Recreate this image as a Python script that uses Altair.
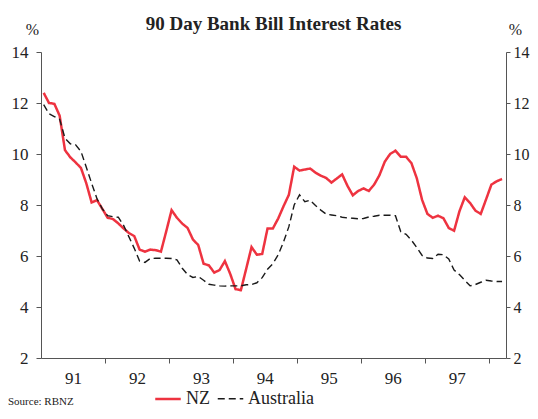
import altair as alt
import pandas as pd

# Monthly 90-day bank bill rates, Jan 1991 - Mar 1998
start_year = 1991
nz = [12.4, 12.0, 11.97, 11.5, 10.15, 9.87, 9.67, 9.45, 8.85, 8.1,
      8.19, 7.85, 7.5, 7.45, 7.28, 7.08, 6.9, 6.78, 6.25, 6.17,
      6.25, 6.23, 6.17, 6.97, 7.8, 7.5, 7.27, 7.1, 6.65, 6.43,
      5.7, 5.63, 5.35, 5.45, 5.8, 5.3, 4.7, 4.66, 5.5, 6.35,
      6.05, 6.08, 7.08, 7.08, 7.47, 7.95, 8.4, 9.5, 9.35, 9.39,
      9.43, 9.27, 9.15, 9.06, 8.88, 9.04, 9.2, 8.75, 8.38, 8.55,
      8.65, 8.55, 8.8, 9.17, 9.7, 10.0, 10.13, 9.89, 9.89, 9.64,
      9.05, 8.2, 7.65, 7.5, 7.58, 7.48, 7.1, 6.99, 7.75, 8.3,
      8.08, 7.78, 7.65, 8.22, 8.8, 8.93, 9.02]
aus = [11.94, 11.58, 11.47, 11.36, 10.62, 10.4, 10.36, 10.1, 9.48, 8.85,
       8.25, 7.85, 7.58, 7.54, 7.52, 7.2, 6.75, 6.3, 5.8, 5.75,
       5.9, 5.91, 5.91, 5.91, 5.9, 5.85, 5.52, 5.27, 5.16, 5.2,
       5.05, 4.89, 4.86, 4.83, 4.82, 4.83, 4.83, 4.83, 4.87, 4.88,
       4.95, 5.15, 5.48, 5.7, 6.05, 6.55, 7.15, 8.0, 8.4, 8.13,
       8.19, 7.98, 7.8, 7.64, 7.61, 7.58, 7.52, 7.49, 7.48, 7.46,
       7.47, 7.53, 7.56, 7.6, 7.6, 7.6, 7.58, 6.95, 6.85, 6.62,
       6.33, 6.02, 5.92, 5.9, 6.07, 6.05, 5.88, 5.45, 5.27, 5.05,
       4.83, 4.88, 4.97, 5.05, 5.02, 5.0, 5.0]
series_names = ["NZ", "Australia"]
series_colors = ["#ee3340", "#1a1a1a"]
y_ticks = [2, 4, 6, 8, 10, 12, 14]
x_label_years = [1991.5, 1992.5, 1993.5, 1994.5, 1995.5, 1996.5, 1997.5]
x_tick_years = [1992, 1993, 1994, 1995, 1996, 1997, 1998]

rows = []
for name, vals in zip(series_names, [nz, aus]):
    for m, v in enumerate(vals):
        rows.append({"t": start_year + (m + 0.5) / 12, "rate": v, "series": name})
df = pd.DataFrame(rows)

FONT = "Liberation Serif"
W, H = 465, 306
AXC = "#555555"
TXT = "#222222"

x_scale = alt.Scale(domain=[1991, 1998.27], nice=False, zero=False)
y_scale = alt.Scale(domain=[2, 14], nice=False, zero=False)

x_axis = alt.Axis(
    values=sorted(x_label_years + x_tick_years),
    labelExpr="floor(datum.value) != datum.value ? '' + (floor(datum.value) - 1900) : ''",
    tickOpacity={"condition": {"test": "floor(datum.value) != datum.value", "value": 0}, "value": 1},
    grid=False, title=None, labelFlush=False, labelOverlap=False,
    tickSize=5, labelPadding=7, labelFontSize=17, labelFont=FONT,
    domainColor=AXC, tickColor=AXC, labelColor=TXT,
)

left_axis = alt.Axis(
    values=y_ticks, orient="left", grid=False, title="%", titleAngle=0,
    titleX=-9, titleY=-23, titleAlign="center", titleBaseline="middle",
    titleFont=FONT, titleFontSize=16, titleFontWeight="normal", titleColor=TXT,
    tickSize=5, labelPadding=8, labelFontSize=17, labelFont=FONT,
    domainColor=AXC, tickColor=AXC, labelColor=TXT,
)
right_axis = alt.Axis(
    values=y_ticks, orient="right", grid=False, title="%", titleAngle=0,
    titleX=9, titleY=-23, titleAlign="center", titleBaseline="middle",
    titleFont=FONT, titleFontSize=16, titleFontWeight="normal", titleColor=TXT,
    tickSize=4, labelPadding=3, labelFontSize=16, labelFont=FONT,
    domainColor=AXC, tickColor=AXC, labelColor=TXT,
)

legend_kw = dict(title=None, orient="none", legendX=113, legendY=333,
                 direction="horizontal", symbolType="stroke",
                 symbolSize=650, symbolStrokeWidth=2.5,
                 labelFont=FONT, labelFontSize=18, labelColor=TXT,
                 labelOffset=4, columnPadding=4)

lines = alt.Chart(df).mark_line().encode(
    x=alt.X("t:Q", scale=x_scale, axis=x_axis),
    y=alt.Y("rate:Q", scale=y_scale, axis=left_axis),
    color=alt.Color("series:N", scale=alt.Scale(domain=series_names, range=series_colors),
                    legend=alt.Legend(**legend_kw)),
    strokeDash=alt.StrokeDash("series:N",
                              scale=alt.Scale(domain=series_names, range=[[1, 0], [7, 4]]),
                              legend=alt.Legend(**legend_kw)),
    strokeWidth=alt.StrokeWidth("series:N",
                                scale=alt.Scale(domain=series_names, range=[2.5, 1.4]),
                                legend=None),
)

right = alt.Chart(df).mark_line(opacity=0).encode(
    x=alt.X("t:Q", scale=x_scale, axis=x_axis),
    y=alt.Y("rate:Q", scale=y_scale, axis=right_axis),
    detail="series:N",
)

source = alt.Chart(pd.DataFrame({"label": ["Source: RBNZ"]})).mark_text(
    align="left", baseline="middle", font=FONT, fontSize=11, color=TXT
).encode(x=alt.value(-33), y=alt.value(350), text="label:N")

chart = alt.layer(lines, right, source).resolve_axis(y="independent").properties(
    width=W, height=H,
    autosize=alt.AutoSizeParams(type="none"),
    padding={"left": 33, "top": 44, "right": 24, "bottom": 52},
    title=alt.Title("90 Day Bank Bill Interest Rates", font=FONT, fontSize=19,
                    fontWeight="bold", color=TXT, frame="group",
                    baseline="alphabetic", offset=-28, anchor="middle"),
).configure_view(stroke=None)

chart.save("out.html", embed_options={"renderer": "svg", "actions": False})
